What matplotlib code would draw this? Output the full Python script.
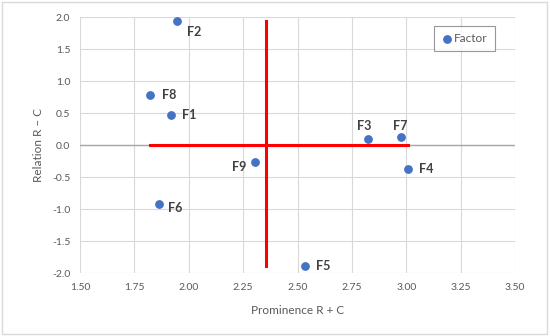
import numpy as np
import matplotlib.pyplot as plt

plt.rcParams['font.family'] = ['Lato', 'DejaVu Sans']

# factors: prominence (R + C) and relation (R - C)
labels = ['F1', 'F2', 'F3', 'F4', 'F5', 'F6', 'F7', 'F8', 'F9']
prominence = [1.92, 1.945, 2.823, 3.01, 2.535, 1.862, 2.978, 1.82, 2.306]
relation = [0.47, 1.94, 0.09, -0.375, -1.89, -0.92, 0.13, 0.79, -0.27]

# label offsets in pixels (dx, dy) and alignment
offsets = {
    'F1': (11, 0, 'left'), 'F2': (10, -11, 'left'), 'F3': (-4, 13, 'center'),
    'F4': (11, 0, 'left'), 'F5': (11, 0, 'left'), 'F6': (9, -4, 'left'),
    'F7': (-1, 11, 'center'), 'F8': (12, 0, 'left'), 'F9': (-9, -5, 'right'),
}

x_ticks = np.arange(1.5, 3.51, 0.25)
y_ticks = np.arange(-2.0, 2.01, 0.5)

fig = plt.figure(figsize=(5.5, 3.36), dpi=100)
ax = fig.add_axes([0.1455, 0.1866, 0.7909, 0.7628])

# quadrant lines: mean prominence and zero relation
xm = np.mean(prominence)
ax.plot([xm, xm], [min(relation), max(relation)], color='#FF0000', lw=2.2, zorder=3)
ax.plot([min(prominence), max(prominence)], [0, 0], color='#FF0000', lw=2.2, zorder=3)

ax.axhline(0, color='#A6A6A6', lw=1, zorder=1)
ax.scatter(prominence, relation, s=28, color='#4472C4', zorder=4, label='Factor')

for lab, x, y in zip(labels, prominence, relation):
    dx, dy, ha = offsets[lab]
    ax.annotate(lab, (x, y), xytext=(dx, dy), textcoords='offset pixels',
                ha=ha, va='center', fontsize=9, fontweight='bold', color='#404040')

ax.set_xlim(1.5, 3.5)
ax.set_ylim(-2.0, 2.0)
ax.set_xticks(x_ticks)
ax.set_yticks(y_ticks)
ax.set_xticklabels([f'{v:.2f}' for v in x_ticks])
ax.set_yticklabels([f'{v:.1f}' for v in y_ticks])
ax.grid(True, color='#D9D9D9', lw=0.8, zorder=0)
ax.set_axisbelow(True)
for s in ax.spines.values():
    s.set_visible(False)
ax.tick_params(length=0, labelsize=7.5, colors='#595959', pad=7)
ax.set_xlabel('Prominence R + C', fontsize=8.5, color='#595959', labelpad=9)
ax.set_ylabel('Relation R \u2013 C', fontsize=8.5, color='#595959', labelpad=6)

leg = ax.legend(loc='upper right', bbox_to_anchor=(0.962, 0.98), fontsize=8.5,
                frameon=True, fancybox=False, handletextpad=0.1,
                borderpad=0.6, handlelength=1.0, borderaxespad=0.3)
leg.get_frame().set_edgecolor('#7F7F7F')
leg.get_frame().set_linewidth(0.8)
for t in leg.get_texts():
    t.set_color('#595959')

# light outer border
fig.patches.append(plt.Rectangle((0.004, 0.006), 0.99, 0.988, transform=fig.transFigure,
                                 fill=False, edgecolor='#D9D9D9', lw=1))

fig.savefig('out.png', dpi=100)
